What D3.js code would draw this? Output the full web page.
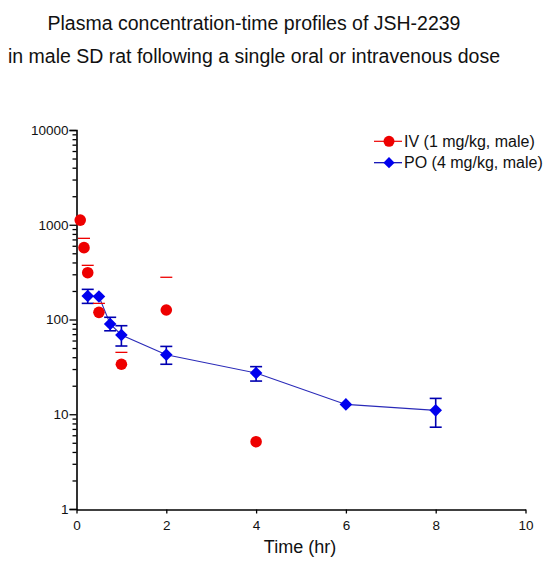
<!DOCTYPE html>
<html><head><meta charset="utf-8">
<script src="https://cdn.jsdelivr.net/npm/d3@7"></script>
<style>body{margin:0;background:#fff}svg{display:block;font-family:"Liberation Sans",Arial,sans-serif}</style>
</head><body><svg id="c" width="554" height="574"></svg>
<script>
const titleLines = ["Plasma concentration-time profiles of JSH-2239", "in male SD rat following a single oral or intravenous dose"];
const xLabel = "Time (hr)";
const xTicks = [0, 2, 4, 6, 8, 10];
const yMajorTicks = [1, 10, 100, 1000, 10000];
const legendLabels = ["IV (1 mg/kg, male)", "PO (4 mg/kg, male)"];

const ivTime = [0.083, 0.167, 0.25, 0.5, 1, 2, 4];
const ivConc = [1120, 573, 312, 119, 33.7, 126, 5.13];
const ivUpper = [null, 719, 373, 148, 45, 279, null];

const poTime = [0.25, 0.5, 0.75, 1, 2, 4, 6, 8];
const poConc = [177, 175, 89.7, 68.6, 42.5, 27.2, 12.7, 11.0];
const poUpper = [208, null, 105.5, 86, 52, 31.8, null, 14.7];
const poLower = [148, null, 76, 52.5, 33.7, 22.4, null, 7.3];

const svg = d3.select("#c");
const x = d3.scaleLinear().domain([0, 10]).range([76.5, 525.5]);
const y = d3.scaleLog().domain([1, 10000]).range([509, 130]);

const RED = "#ee0000", BLUE = "#0000ee", BLUEDARK = "#0000b0";

// title
svg.append("g").selectAll("text").data(titleLines).join("text")
  .attr("x", 254).attr("y", (d, i) => 29.5 + i * 33.4)
  .attr("text-anchor", "middle").attr("font-size", 19.5).attr("fill", "#111")
  .text(d => d);

// axes
const minors = [];
for (let e = 0; e < 4; e++) for (let m = 2; m <= 9; m++) minors.push(m * Math.pow(10, e));

const gy = svg.append("g").attr("transform", "translate(76.5,0)");
gy.call(d3.axisLeft(y).tickValues(yMajorTicks).tickSize(7).tickPadding(1).tickFormat(d3.format("d")));
const gym = svg.append("g").attr("transform", "translate(76.5,0)");
gym.call(d3.axisLeft(y).tickValues(minors).tickSize(4).tickFormat(""));
gym.select(".domain").remove();

const gx = svg.append("g").attr("transform", "translate(0,509.5)");
gx.call(d3.axisBottom(x).tickValues(xTicks).tickSize(4).tickPadding(7).tickSizeOuter(0));

svg.selectAll(".domain").attr("stroke", "#000").attr("stroke-width", 1.6);
svg.selectAll(".tick line").attr("stroke", "#000").attr("stroke-width", 1.3);
svg.selectAll(".tick text").attr("font-size", 13.5).attr("fill", "#111")
  .attr("font-family", "'Liberation Sans',Arial,sans-serif");

svg.append("text").attr("x", 300).attr("y", 553).attr("text-anchor", "middle")
  .attr("font-size", 18).attr("fill", "#111").text(xLabel);

// PO line
const po = poTime.map((t, i) => ({t, c: poConc[i], u: poUpper[i], l: poLower[i]}));
const iv = ivTime.map((t, i) => ({t, c: ivConc[i], u: ivUpper[i]}));

svg.append("path").datum(po)
  .attr("d", d3.line().x(d => x(d.t)).y(d => y(d.c)))
  .attr("fill", "none").attr("stroke", "#2a2ab8").attr("stroke-width", 1.1);

// PO error bars
const pe = svg.append("g").attr("stroke", BLUEDARK).attr("stroke-width", 1.6);
po.filter(d => d.u != null).forEach(d => {
  pe.append("line").attr("x1", x(d.t)).attr("x2", x(d.t)).attr("y1", y(d.u)).attr("y2", y(d.l));
  [d.u, d.l].forEach(v => pe.append("line").attr("x1", x(d.t) - 6).attr("x2", x(d.t) + 6).attr("y1", y(v)).attr("y2", y(v)));
});

// IV error caps (upper only)
const ie = svg.append("g").attr("stroke", RED).attr("stroke-width", 1.3);
iv.filter(d => d.u != null).forEach(d => {
  ie.append("line").attr("x1", x(d.t) - 6).attr("x2", x(d.t) + 6).attr("y1", y(d.u)).attr("y2", y(d.u));
});

// markers
const diamond = (cx, cy, r) => `M${cx},${cy - r}L${cx + r},${cy}L${cx},${cy + r}L${cx - r},${cy}Z`;
svg.append("g").selectAll("path").data(po).join("path")
  .attr("d", d => diamond(x(d.t), y(d.c), 6.3)).attr("fill", BLUE);
svg.append("g").selectAll("circle").data(iv).join("circle")
  .attr("cx", d => x(d.t)).attr("cy", d => y(d.c)).attr("r", 5.8).attr("fill", RED);

// legend
const lg = svg.append("g");
const rows = [{label: legendLabels[0], color: RED, y: 141.3, shape: "circle"},
              {label: legendLabels[1], color: BLUE, y: 162.7, shape: "diamond"}];
rows.forEach(r => {
  lg.append("line").attr("x1", 374).attr("x2", 402).attr("y1", r.y).attr("y2", r.y)
    .attr("stroke", r.shape === "circle" ? RED : BLUEDARK).attr("stroke-width", 1.2);
  if (r.shape === "circle") lg.append("circle").attr("cx", 389).attr("cy", r.y).attr("r", 5.5).attr("fill", r.color);
  else lg.append("path").attr("d", diamond(389, r.y, 5.6)).attr("fill", r.color);
  lg.append("text").attr("x", 404).attr("y", r.y).attr("dy", "0.35em")
    .attr("font-size", 16).attr("fill", "#111").text(r.label);
});
</script></body></html>
